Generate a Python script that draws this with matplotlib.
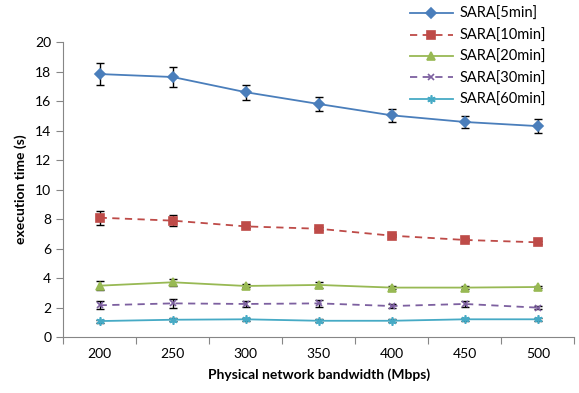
import matplotlib.pyplot as plt
import numpy as np

plt.rcParams['font.family'] = ['Lato', 'DejaVu Sans']

bandwidth = ['200', '250', '300', '350', '400', '450', '500']
labels = ['SARA[5min]', 'SARA[10min]', 'SARA[20min]', 'SARA[30min]', 'SARA[60min]']

t5 = [17.83, 17.63, 16.6, 15.8, 15.03, 14.58, 14.3]
e5 = [0.75, 0.65, 0.5, 0.5, 0.45, 0.43, 0.48]
t10 = [8.09, 7.89, 7.5, 7.34, 6.87, 6.58, 6.42]
e10 = [0.48, 0.35, 0.1, 0.1, 0.1, 0.1, 0.1]
t20 = [3.48, 3.71, 3.46, 3.53, 3.35, 3.35, 3.39]
e20 = [0.3, 0.25, 0.1, 0.2, 0.1, 0.1, 0.1]
t30 = [2.15, 2.28, 2.24, 2.28, 2.1, 2.24, 1.99]
e30 = [0.26, 0.3, 0.2, 0.25, 0.15, 0.2, 0.1]
t60 = [1.08, 1.17, 1.2, 1.1, 1.1, 1.2, 1.2]
e60 = [0.1, 0.1, 0.1, 0.1, 0.1, 0.1, 0.1]

series = [
    (t5, e5, '#4A7EBB', 'D', '-', 5),
    (t10, e10, '#BE4B48', 's', (0, (4, 3)), 6),
    (t20, e20, '#98B954', '^', '-', 6),
    (t30, e30, '#7D60A0', 'x', (0, (4, 3)), 5),
    (t60, e60, '#46AAC5', (6, 2, 0), '-', 6),
]

fig = plt.figure(figsize=(5.79, 3.93), dpi=100)
ax = fig.add_axes([0.109, 0.1425, 0.883, 0.7505])
x = np.arange(len(bandwidth))

handles = []
for (vals, errs, col, mk, ls, ms), lab in zip(series, labels):
    ax.errorbar(x, vals, yerr=errs, fmt='none', ecolor='black', elinewidth=1,
                capsize=3, capthick=1, zorder=2)
    h, = ax.plot(x, vals, color=col, linestyle=ls, linewidth=1.3, marker=mk,
                 markersize=ms, markeredgewidth=1.2, label=lab, zorder=3)
    handles.append(h)

ax.set_xlim(-0.5, len(bandwidth) - 0.5)
ax.set_ylim(0, 20)
ax.set_yticks(range(0, 21, 2))
ax.set_xticks(np.arange(-0.5, len(bandwidth)), minor=False)
ax.set_xticklabels([])
ax.set_xticks(x, minor=True)
ax.set_xticklabels(bandwidth, minor=True)
ax.tick_params(axis='x', which='minor', length=0, labelsize=10, pad=8)
ax.tick_params(axis='x', which='major', length=5, color='#868686')
ax.tick_params(axis='y', length=5, color='#868686', labelsize=10)

for s in ['top', 'right']:
    ax.spines[s].set_visible(False)
for s in ['left', 'bottom']:
    ax.spines[s].set_color('#868686')

ax.set_xlabel('Physical network bandwidth (Mbps)', fontweight='bold', fontsize=10, labelpad=6)
ax.set_ylabel('execution time (s)', fontweight='bold', fontsize=10, labelpad=6)

fig.legend(handles=handles, loc='upper right', bbox_to_anchor=(0.955, 1.0), frameon=False,
           fontsize=10.5, handlelength=3.0, labelspacing=0.5, handletextpad=0.4,
           borderaxespad=0.1)

fig.savefig('out.png', dpi=100)
